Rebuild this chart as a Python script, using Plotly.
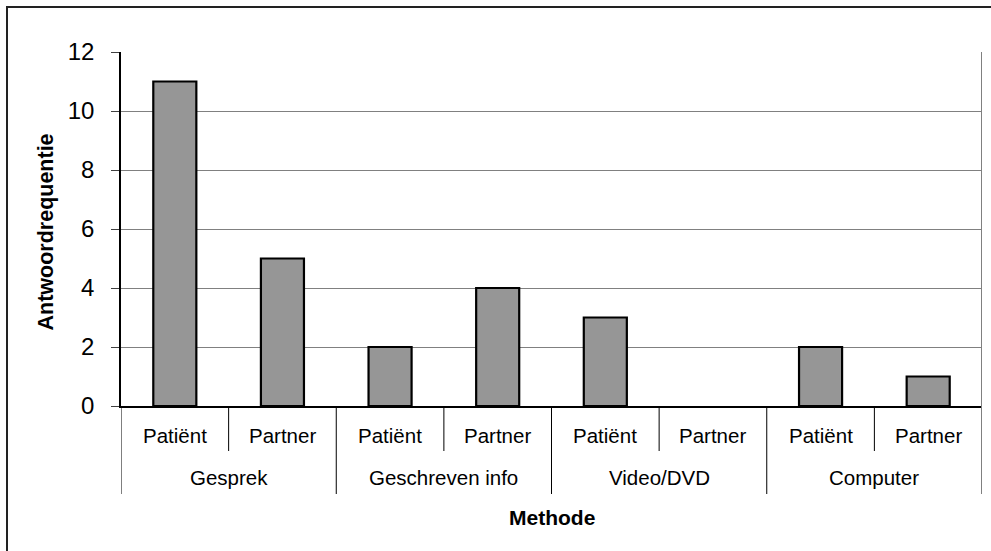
import plotly.graph_objects as go

groups = ["Gesprek", "Geschreven info", "Video/DVD", "Computer"]
subgroups = ["Patiënt", "Partner"]
values = [11, 5, 2, 4, 3, 0, 2, 1]
y_ticks = [0, 2, 4, 6, 8, 10, 12]
x_title = "Methode"
y_title = "Antwoordrequentie"

FONT = "Liberation Sans, Arial, sans-serif"
n = len(values)
ns = len(subgroups)
positions = list(range(n))

fig = go.Figure()
fig.add_trace(go.Bar(
    x=positions, y=values, width=0.4,
    marker=dict(color="#969696",
                line=dict(color="black", width=[2.2 if v > 0 else 0 for v in values])),
    showlegend=False, hoverinfo="skip",
))

W, H = 991, 551
L, R, T, B = 121, 9, 52, 145
ph = H - T - B

def py(pix):
    return (H - B - pix) / ph

annotations = []
shapes = []
# sub-category labels
for i in positions:
    annotations.append(dict(x=i, y=py(435), xref="x", yref="paper", text=subgroups[i % ns],
                            showarrow=False, xanchor="center", yanchor="middle",
                            font=dict(family=FONT, size=20.5, color="black")))
# group labels
for g, name in enumerate(groups):
    annotations.append(dict(x=g * ns + (ns - 1) / 2, y=py(478), xref="x", yref="paper", text=name,
                            showarrow=False, xanchor="center", yanchor="middle",
                            font=dict(family=FONT, size=20.5, color="black")))
# axis titles
annotations.append(dict(x=0.5, y=py(517), xref="paper", yref="paper", text="<b>%s</b>" % x_title,
                        showarrow=False, xanchor="center", yanchor="middle",
                        font=dict(family=FONT, size=21, color="black")))
annotations.append(dict(x=(45 - L) / (W - L - R), y=py(232.5), xref="paper", yref="paper",
                        text="<b>%s</b>" % y_title, textangle=-90,
                        showarrow=False, xanchor="center", yanchor="middle",
                        font=dict(family=FONT, size=21.5, color="black")))

# category dividers
for k in range(n + 1):
    xb = k - 0.5
    if k % ns == 0:
        color = "#808080" if k == n else "black"
        width = 2 if k == n else 1
        shapes.append(dict(type="line", xref="x", yref="paper", x0=xb, x1=xb, y0=0, y1=py(494),
                           line=dict(color=color, width=width)))
    else:
        shapes.append(dict(type="line", xref="x", yref="paper", x0=xb, x1=xb, y0=0, y1=py(451),
                           line=dict(color="black", width=1)))
# right plot-area border
shapes.append(dict(type="line", xref="x", yref="paper", x0=n - 0.5, x1=n - 0.5, y0=0, y1=1,
                   line=dict(color="#808080", width=2)))
# outer chart border (cut off at right/bottom)
shapes.append(dict(type="rect", xref="paper", yref="paper",
                   x0=(7 - L) / (W - L - R), x1=1.2, y0=-0.6, y1=py(7),
                   line=dict(color="#222222", width=2), fillcolor="rgba(0,0,0,0)"))

fig.update_layout(
    width=W, height=H,
    margin=dict(l=L, r=R, t=T, b=B, pad=0),
    paper_bgcolor="white", plot_bgcolor="white",
    font=dict(family=FONT, color="black"),
    bargap=0.6,
    xaxis=dict(range=[-0.5, n - 0.5], showticklabels=False, showgrid=False, zeroline=False,
               showline=True, linecolor="black", linewidth=1.5, ticks="", fixedrange=True),
    yaxis=dict(range=[0, 12], tickvals=y_ticks, showgrid=True, gridcolor="#808080", gridwidth=1,
               zeroline=False, showline=True, linecolor="black", linewidth=1.5,
               ticks="outside", ticklen=8, tickcolor="#404040", tickwidth=1,
               ticklabelstandoff=12, fixedrange=True,
               tickfont=dict(family=FONT, size=24, color="black")),
    annotations=annotations,
    shapes=shapes,
)

fig.write_html("out.html", config={"displayModeBar": False},
               post_script="document.body.style.margin='0';document.body.style.overflow='hidden';")
